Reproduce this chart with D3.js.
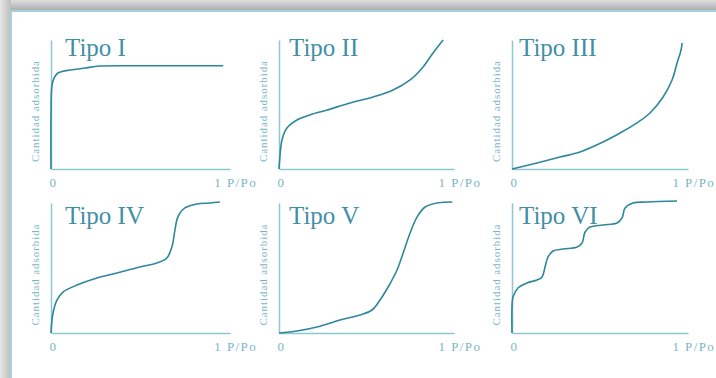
<!DOCTYPE html>
<html>
<head>
<meta charset="utf-8">
<script src="https://cdn.jsdelivr.net/npm/d3@7"></script>
<style>
  body { margin: 0; background: #fff; }
  svg { display: block; }
  .title { font-family: 'Liberation Serif', serif; font-size: 25px; fill: #3f90a4; }
  .ylabel { font-family: 'Liberation Serif', serif; font-size: 11px; fill: #78b6c4; }
  .axis text { font-family: 'Liberation Serif', serif; font-size: 13px; fill: #78b6c4; letter-spacing: 1.4px; }
  .axis path { stroke: #8cc7d3; stroke-width: 1.5; }
  .curve { fill: none; stroke: #2f879b; stroke-width: 1.6; }
</style>
</head>
<body>
<div class="vis"></div>
<script>
// frame size
const FRAME_WIDTH = 716;
const FRAME_HEIGHT = 378;

// text
const TITLES = ['Tipo I', 'Tipo II', 'Tipo III', 'Tipo IV', 'Tipo V', 'Tipo VI'];
const Y_LABEL = 'Cantidad adsorbida';
const X_TICKS = [0, 1];
const X_UNIT = 'P/Po';

// isotherms: [P/Po, relative amount adsorbed]
const TIPO_I = [[0, 0], [0, 0.42], [0.006, 0.65], [0.02, 0.71], [0.041, 0.744], [0.07, 0.758],
  [0.112, 0.767], [0.2, 0.783], [0.29, 0.798], [0.5, 0.8], [1.02, 0.8]];
const TIPO_II = [[0, 0], [0.004, 0.07], [0.018, 0.225], [0.048, 0.318], [0.109, 0.38], [0.188, 0.419],
  [0.291, 0.457], [0.43, 0.512], [0.57, 0.558], [0.691, 0.612], [0.794, 0.69], [0.873, 0.791],
  [0.933, 0.899], [0.994, 1.0]];
const TIPO_III = [[0, 0], [0.151, 0.047], [0.289, 0.093], [0.41, 0.132], [0.548, 0.209], [0.651, 0.279],
  [0.753, 0.357], [0.831, 0.434], [0.91, 0.558], [0.964, 0.69], [0.994, 0.822], [1.018, 0.922],
  [1.024, 0.977]];
const TIPO_IV = [[0, 0], [0.002, 0.046], [0.012, 0.154], [0.036, 0.254], [0.071, 0.315], [0.154, 0.369],
  [0.272, 0.423], [0.391, 0.462], [0.527, 0.508], [0.627, 0.538], [0.686, 0.577], [0.716, 0.662],
  [0.734, 0.792], [0.751, 0.892], [0.793, 0.962], [0.864, 0.992], [0.941, 1.0], [1.0, 1.008]];
const TIPO_V = [[0, 0], [0.109, 0.015], [0.23, 0.046], [0.37, 0.1], [0.491, 0.138], [0.564, 0.177],
  [0.612, 0.254], [0.661, 0.354], [0.715, 0.485], [0.752, 0.615], [0.794, 0.769], [0.836, 0.892],
  [0.885, 0.969], [0.958, 1.0], [1.05, 1.008]];
const TIPO_VI = [[0, 0], [0, 0.2], [0.006, 0.277], [0.036, 0.346], [0.09, 0.385], [0.151, 0.408],
  [0.181, 0.431], [0.199, 0.508], [0.217, 0.585], [0.247, 0.631], [0.307, 0.646], [0.392, 0.662],
  [0.422, 0.692], [0.44, 0.777], [0.47, 0.815], [0.548, 0.831], [0.633, 0.846], [0.663, 0.885],
  [0.681, 0.962], [0.729, 1.0], [0.813, 1.008], [0.994, 1.015]];
const SERIES = [TIPO_I, TIPO_II, TIPO_III, TIPO_IV, TIPO_V, TIPO_VI];

// panel grid (pixels)
const COLS = [{x0: 51, xEnd: 230, titleDx: 14}, {x0: 279, xEnd: 454, titleDx: 10}, {x0: 512, xEnd: 688, titleDx: 7}];
const ROWS = [{top: 40, bottom: 169, titleDy: 16}, {top: 203, bottom: 333, titleDy: 21}];

const svg = d3.select('.vis')
  .append('svg')
    .attr('width', FRAME_WIDTH)
    .attr('height', FRAME_HEIGHT);

// shadow bands round the card
const defs = svg.append('defs');
const gTop = defs.append('linearGradient').attr('id', 'shTop').attr('x1', 0).attr('y1', 0).attr('x2', 0).attr('y2', 1);
gTop.append('stop').attr('offset', '0%').attr('stop-color', '#dedede');
gTop.append('stop').attr('offset', '100%').attr('stop-color', '#a9a9a9');
const gLeft = defs.append('linearGradient').attr('id', 'shLeft').attr('x1', 0).attr('y1', 0).attr('x2', 1).attr('y2', 0);
gLeft.append('stop').attr('offset', '0%').attr('stop-color', '#e6e6e6');
gLeft.append('stop').attr('offset', '100%').attr('stop-color', '#bcbcbc');

svg.append('rect').attr('x', 0).attr('y', 0).attr('width', FRAME_WIDTH).attr('height', 11).attr('fill', 'url(#shTop)');
svg.append('rect').attr('x', 0).attr('y', 0).attr('width', 11).attr('height', FRAME_HEIGHT).attr('fill', 'url(#shLeft)');

// card
svg.append('rect')
  .attr('x', 11).attr('y', 11)
  .attr('width', FRAME_WIDTH).attr('height', FRAME_HEIGHT)
  .attr('fill', '#fff')
  .attr('stroke', '#a3d3de')
  .attr('stroke-width', 2);

SERIES.forEach((data, i) => {
  const col = COLS[i % 3];
  const row = ROWS[Math.floor(i / 3)];

  const xscale = d3.scaleLinear().domain([0, 1.06]).range([col.x0, col.xEnd]);
  const yscale = d3.scaleLinear().domain([0, 1]).range([row.bottom, row.top]);

  const g = svg.append('g');

  // x axis
  const xa = g.append('g')
    .attr('class', 'axis')
    .attr('transform', 'translate(0,' + row.bottom + ')')
    .call(d3.axisBottom(xscale)
      .tickValues(X_TICKS)
      .tickSize(0)
      .tickPadding(9)
      .tickFormat((d) => d === 1 ? '1 ' + X_UNIT : String(d)));
  xa.selectAll('.tick text')
    .attr('text-anchor', (d) => d === 1 ? 'start' : 'middle')
    .attr('dx', (d) => d === 1 ? -6 : 2);

  // y axis
  g.append('g')
    .attr('class', 'axis')
    .attr('transform', 'translate(' + col.x0 + ',0)')
    .call(d3.axisLeft(yscale).tickValues([]).tickSizeOuter(0));

  // y label
  g.append('text')
    .attr('class', 'ylabel')
    .attr('transform', 'translate(' + (col.x0 - 16) + ',' + ((row.top + row.bottom) / 2 + 7) + ') rotate(-90)')
    .attr('text-anchor', 'middle')
    .attr('dominant-baseline', 'central')
    .attr('textLength', 101)
    .attr('lengthAdjust', 'spacing')
    .text(Y_LABEL);

  // curve
  g.append('path')
    .datum(data)
    .attr('class', 'curve')
    .attr('d', d3.line()
      .x((d) => xscale(d[0]))
      .y((d) => yscale(d[1]))
      .curve(d3.curveCatmullRom.alpha(0.5)));

  // title
  g.append('text')
    .attr('class', 'title')
    .attr('x', col.x0 + col.titleDx)
    .attr('y', row.top + row.titleDy)
    .text(TITLES[i]);
});
</script>
</body>
</html>
